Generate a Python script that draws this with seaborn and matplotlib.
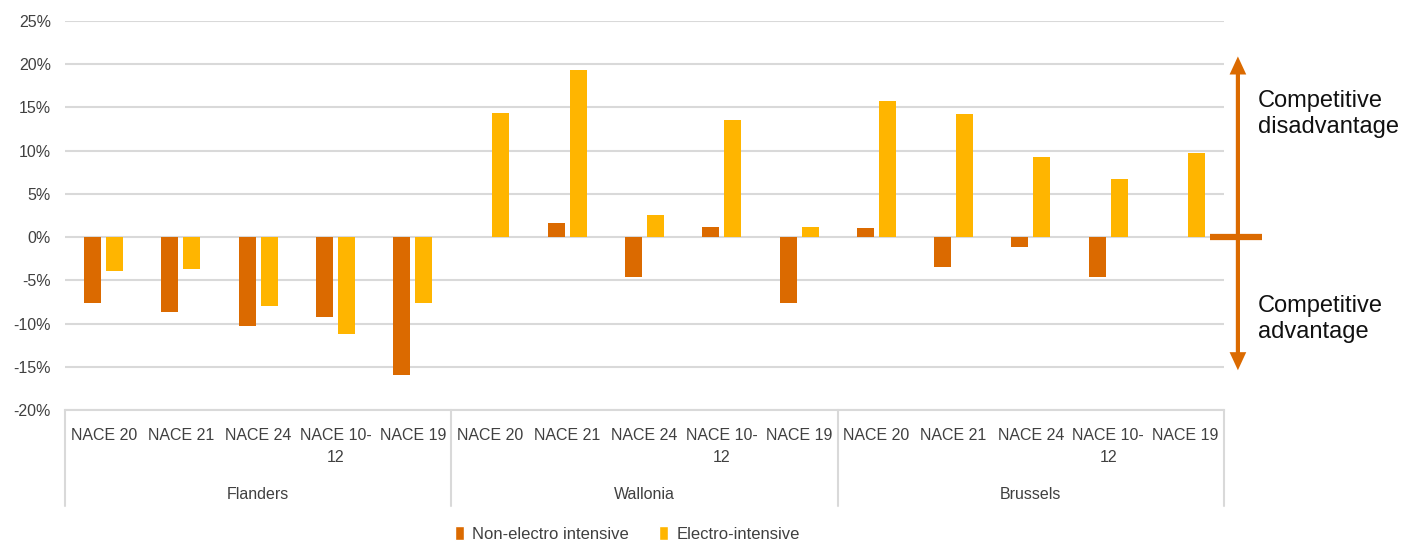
import numpy as np
import pandas as pd
import matplotlib
matplotlib.use("Agg")
import matplotlib.pyplot as plt
import matplotlib.transforms as mtransforms
from matplotlib.patches import Patch
import seaborn as sns

# data (share, i.e. 0.05 = 5%)
regions = ["Flanders", "Wallonia", "Brussels"]
sectors = ["NACE 20", "NACE 21", "NACE 24", "NACE 10-\n12", "NACE 19"]
series = ["Non-electro intensive", "Electro-intensive"]

non_electro = [-0.076, -0.087, -0.103, -0.092, -0.159,
               0.000, 0.016, -0.046, 0.012, -0.076,
               0.010, -0.035, -0.011, -0.046, 0.000]
electro = [-0.039, -0.037, -0.080, -0.112, -0.076,
           0.144, 0.193, 0.026, 0.136, 0.012,
           0.158, 0.142, 0.093, 0.067, 0.097]

colors = {"Non-electro intensive": "#DB6A00", "Electro-intensive": "#FFB500"}
arrow_color = "#DB6A00"
grid_color = "#D9D9D9"
text_color = "#404040"

keys = [f"{r}|{s}" for r in regions for s in sectors]
df = pd.DataFrame({
    "key": keys * 2,
    "series": [series[0]] * len(keys) + [series[1]] * len(keys),
    "value": non_electro + electro,
})

sns.set_theme(style="white")
plt.rcParams["font.family"] = ["Liberation Sans", "DejaVu Sans"]

fig = plt.figure(figsize=(14.03, 5.43), dpi=100)
ax = fig.add_axes([65 / 1403, 1 - 410 / 543, 1159 / 1403, 389 / 543])

sns.barplot(data=df, x="key", y="value", hue="series", order=keys,
            hue_order=series, palette=colors, saturation=1, width=0.57, gap=0.23,
            errorbar=None, linewidth=0, legend=False, ax=ax)

yticks = np.round(np.arange(-0.20, 0.251, 0.05), 2)
ax.set_xlim(-0.5, len(keys) - 0.5)
ax.set_ylim(-0.20, 0.25)
ax.set_yticks(yticks)
ax.set_yticklabels([f"{int(round(v * 100))}%" for v in yticks],
                   fontsize=11.5, color=text_color)
ax.yaxis.grid(True, color=grid_color, linewidth=1.5)
ax.set_axisbelow(True)
ax.tick_params(axis="y", length=0, pad=10)

ax.set_xticks(range(len(keys)))
ax.set_xticklabels([k.split("|")[1] for k in keys], fontsize=11.5,
                   color=text_color, linespacing=1.6)
ax.tick_params(axis="x", length=0, pad=13)
ax.set_xlabel("")
ax.set_ylabel("")

for side in ["top", "right", "left"]:
    ax.spines[side].set_visible(False)
ax.spines["bottom"].set_color(grid_color)
ax.spines["bottom"].set_linewidth(1.5)

# group separators and region labels under the axis
trans = mtransforms.blended_transform_factory(ax.transData, ax.transAxes)
for b in np.arange(-0.5, len(keys), len(sectors)):
    ax.plot([b, b], [0, -0.247], transform=trans, color=grid_color,
            linewidth=1.5, clip_on=False)
for i, r in enumerate(regions):
    ax.text(i * len(sectors) + (len(sectors) - 1) / 2, -0.218, r, transform=trans,
            ha="center", va="center", fontsize=11.5, color=text_color)

# competitive advantage / disadvantage arrow
tr2 = mtransforms.blended_transform_factory(ax.transAxes, ax.transData)
arrow_style = dict(width=3, headwidth=12, headlength=13, color=arrow_color,
                   linewidth=0, shrink=0)
ax.annotate("", xy=(1.012, 0.209), xytext=(1.012, 0.0), xycoords=tr2, textcoords=tr2,
            arrowprops=arrow_style, annotation_clip=False)
ax.annotate("", xy=(1.012, -0.154), xytext=(1.012, 0.0), xycoords=tr2, textcoords=tr2,
            arrowprops=arrow_style, annotation_clip=False)
ax.plot([0.988, 1.033], [0, 0], transform=tr2, color=arrow_color, lw=4.5,
        solid_capstyle="butt", clip_on=False)

ax.text(1.029, 0.761, "Competitive\ndisadvantage", transform=ax.transAxes,
        ha="left", va="center", fontsize=17, color="#111111", linespacing=1.2)
ax.text(1.029, 0.234, "Competitive\nadvantage", transform=ax.transAxes,
        ha="left", va="center", fontsize=17, color="#111111", linespacing=1.2)

handles = [Patch(facecolor=colors[s], label=s) for s in series]
fig.legend(handles=handles, loc="center", bbox_to_anchor=(0.447, 0.016), ncol=2,
           frameon=False, fontsize=12, handlelength=0.55, handleheight=0.9,
           handletextpad=0.5, columnspacing=1.8, labelcolor=text_color)

fig.savefig("out.png", dpi=100)
